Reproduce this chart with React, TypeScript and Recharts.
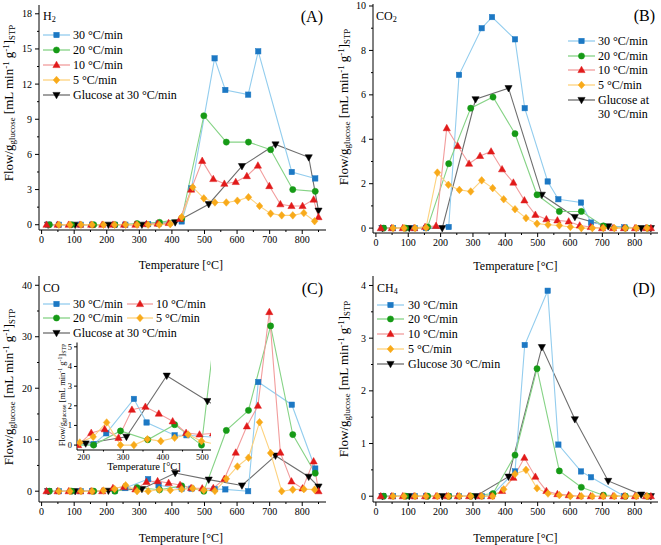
import React from "react"
import { Line, LineChart, XAxis, YAxis } from "recharts"

const FONT = "'Liberation Serif', 'Times New Roman', serif"

// temperatures at which each heating rate was sampled [°C]
const T_30 = [20, 53, 120, 155, 225, 257, 327, 359, 430, 460, 531, 564, 634, 665, 768, 840]
const T_20 = [24, 92, 160, 225, 293, 362, 430, 498, 567, 635, 703, 771, 840]
const T_10 = [15, 49, 83, 118, 152, 186, 219, 253, 288, 322, 356, 390, 425, 459, 493, 527, 561, 596, 630, 664, 699, 733, 767, 801, 835, 850]
const T_5 = [53, 87, 121, 155, 190, 224, 258, 293, 327, 361, 395, 430, 464, 498, 532, 567, 601, 635, 669, 703, 737, 771, 805, 838]
const T_GLUCOSE = [20, 103, 205, 308, 410, 513, 615, 718, 820, 850]

// (A) H2
const H2_30 = [0, 0, 0, 0, 0, 0, 0.05, 0.1, 0.28, 3.1, 14.2, 11.5, 11.1, 14.8, 4.5, 3.95]
const H2_20 = [0, 0, 0, 0, 0.1, 0.2, 0.5, 9.3, 7.05, 7.05, 6.4, 3.0, 2.85]
const H2_10 = [0, 0, 0, 0, 0, 0, 0, 0, 0, 0.05, 0.1, 0.15, 0.5, 3.0, 5.45, 3.9, 3.5, 3.65, 4.15, 5.05, 3.3, 1.75, 1.6, 1.6, 2.15, 0.65]
const H2_5 = [0, 0, 0, 0, 0, 0, 0, 0, 0, 0, 0.05, 0.65, 3.2, 2.25, 1.9, 1.9, 2.05, 2.35, 1.6, 0.95, 0.8, 0.8, 1.0, 0.3]
const H2_GLUCOSE = [0, 0, 0, 0, 0.2, 1.75, 5.0, 6.85, 5.75, 1.2]

// (B) CO2
const CO2_30 = [0, 0, 0, 0, 0.05, 6.9, 9.0, 9.5, 8.5, 5.4, 2.1, 1.3, 1.15, 0.25, 0.03, 0]
const CO2_20 = [0, 0, 0.05, 2.9, 5.4, 5.9, 4.25, 1.5, 0.75, 0.75, 0.1, 0, 0]
const CO2_10 = [0, 0, 0, 0, 0.05, 0.1, 4.5, 3.7, 2.9, 3.25, 3.45, 2.65, 2.05, 1.25, 0.6, 0.4, 0.35, 0.3, 0.12, 0.05, 0, 0, 0, 0, 0, 0]
const CO2_5 = [0, 0, 0, 0.02, 2.5, 1.95, 1.72, 1.65, 2.15, 1.8, 1.3, 0.85, 0.45, 0.2, 0.15, 0.12, 0.05, 0, 0, 0, 0, 0, 0, 0]
const CO2_GLUCOSE = [0, 0, 0, 5.8, 6.3, 1.5, 0.5, 0.08, 0, 0]

// (C) CO
const CO_30 = [0, 0, 0, 0, 0.05, 0.6, 2.35, 1.15, 0.5, 0.5, 0.4, 0.35, 0, 21.2, 16.8, 4.4]
const CO_20 = [0, 0, 0, 0, 0.72, 0.27, 1.04, 0, 11.8, 15.7, 32.1, 11.0, 3.5]
const CO_10 = [0, 0, 0, 0, 0, 0, 0.62, 0.81, 0.37, 1.8, 1.95, 1.6, 1.21, 0.62, 0.54, 0.6, 2.4, 7.5, 12.6, 16.6, 34.8, 7.5, 1.9, 0.55, 5.8, 0]
const CO_5 = [0, 0, 0, 0, 0.13, 0.42, 1.15, 0, 0, 0.3, 0.2, 0.37, 0.54, 0.2, 0.05, 2.4, 4.8, 6.5, 13.4, 7.4, 0, 0.3, 0.4, 0.3]
const CO_GLUCOSE = [0, 0, 0.08, 0.42, 3.53, 2.24, 1.1, 6.9, 2.8, 0.9]

// (D) CH4
const CH4_30 = [0, 0, 0, 0, 0, 0, 0, 0.02, 0.47, 2.87, 3.9, 0.98, 0.47, 0.36, 0, 0]
const CH4_20 = [0, 0, 0, 0, 0, 0.05, 0.78, 2.42, 0.48, 0.17, 0.02, 0, 0]
const CH4_10 = [0, 0, 0, 0, 0, 0, 0, 0, 0, 0, 0, 0.1, 0.35, 0.73, 0.37, 0.1, 0.04, 0.02, 0, 0, 0, 0, 0, 0, 0, 0]
const CH4_5 = [0, 0, 0, 0, 0, 0, 0, 0, 0, 0, 0.13, 0.42, 0.5, 0.15, 0.05, 0.02, 0, 0, 0, 0, 0, 0, 0, 0]
const CH4_GLUCOSE = [0, 0, 0, 0, 0.37, 2.83, 1.46, 0.29, 0.03, 0]

const X_MAJOR = [0, 100, 200, 300, 400, 500, 600, 700, 800]
const X_MINOR = [50, 150, 250, 350, 450, 550, 650, 750, 850]
const INSET_X_MAJOR = [200, 300, 400, 500]
const INSET_X_MINOR = [250, 350, 450]
const H2_Y_MAJOR = [0, 3, 6, 9, 12, 15, 18]
const H2_Y_MINOR = [1.5, 4.5, 7.5, 10.5, 13.5, 16.5]
const CO2_Y_MAJOR = [0, 2, 4, 6, 8, 10]
const CO2_Y_MINOR = [1, 3, 5, 7, 9]
const CO_Y_MAJOR = [0, 10, 20, 30, 40]
const CO_Y_MINOR = [5, 15, 25, 35]
const CH4_Y_MAJOR = [0, 1, 2, 3, 4]
const CH4_Y_MINOR = [0.5, 1.5, 2.5, 3.5]
const INSET_Y_MAJOR = [0, 1, 2, 3, 4, 5]

type Shape = "square" | "circle" | "up" | "diamond" | "down"
type SeriesStyle = { shape: Shape; marker: string; line: string; temps: number[] }

const S30: SeriesStyle = { shape: "square", marker: "#1c78c4", line: "#93cdee", temps: T_30 }
const S20: SeriesStyle = { shape: "circle", marker: "#169a16", line: "#86d386", temps: T_20 }
const S10: SeriesStyle = { shape: "up", marker: "#e11a1a", line: "#f29c9c", temps: T_10 }
const S5: SeriesStyle = { shape: "diamond", marker: "#f8aa1a", line: "#fdd27e", temps: T_5 }
const SG: SeriesStyle = { shape: "down", marker: "#000000", line: "#6e6e6e", temps: T_GLUCOSE }

function Marker({ shape, cx, cy, color }: { shape: Shape; cx: number; cy: number; color: string }) {
  const common = { fill: color, stroke: color, strokeWidth: 0.5 }
  if (shape === "square") return <rect x={cx - 2.7} y={cy - 2.7} width={5.4} height={5.4} {...common} />
  if (shape === "circle") return <circle cx={cx} cy={cy} r={3.1} {...common} />
  if (shape === "up")
    return <polygon points={`${cx},${cy - 3.8} ${cx + 3.6},${cy + 2.6} ${cx - 3.6},${cy + 2.6}`} {...common} />
  if (shape === "down")
    return <polygon points={`${cx},${cy + 3.8} ${cx + 3.6},${cy - 2.6} ${cx - 3.6},${cy - 2.6}`} {...common} />
  return <polygon points={`${cx},${cy - 3.8} ${cx + 3.3},${cy} ${cx},${cy + 3.8} ${cx - 3.3},${cy}`} {...common} />
}

const toPoints = (temps: number[], values: number[]) => temps.map((x, i) => ({ x, y: values[i] }))

type TickCfg = { font: number; len: number; minorLen: number; xOffset: number; yGap: number }

function makeXTick(major: number[], t: TickCfg) {
  return (props: any) => {
    const { x, y, payload } = props
    const isMajor = major.includes(payload.value)
    return (
      <g>
        <line x1={x} x2={x} y1={y} y2={y + (isMajor ? t.len : t.minorLen)} stroke="#000" />
        {isMajor && (
          <text x={x} y={y + t.xOffset} textAnchor="middle" dominantBaseline="central" fontSize={t.font} fontFamily={FONT} fill="#000">
            {payload.value}
          </text>
        )}
      </g>
    )
  }
}

function makeYTick(major: number[], t: TickCfg) {
  return (props: any) => {
    const { x, y, payload } = props
    const isMajor = major.includes(payload.value)
    return (
      <g>
        <line x1={x - (isMajor ? t.len : t.minorLen)} x2={x} y1={y} y2={y} stroke="#000" />
        {isMajor && (
          <text x={x - t.len - t.yGap} y={y} textAnchor="end" dominantBaseline="central" fontSize={t.font} fontFamily={FONT} fill="#000">
            {payload.value}
          </text>
        )}
      </g>
    )
  }
}

type PlotProps = {
  width: number
  height: number
  margin: { top: number; right: number; bottom: number; left: number }
  yAxisWidth: number
  xAxisHeight: number
  xDomain: [number, number]
  yDomain: [number, number]
  xMajor: number[]
  xMinor: number[]
  yMajor: number[]
  yMinor: number[]
  lines: { style: SeriesStyle; values: number[] }[]
  tick: TickCfg
}

function Plot(p: PlotProps) {
  const xt = [...p.xMajor, ...p.xMinor].sort((a, b) => a - b)
  const yt = [...p.yMajor, ...p.yMinor].sort((a, b) => a - b)
  return (
    <LineChart width={p.width} height={p.height} margin={p.margin}>
      <XAxis
        xAxisId="b"
        dataKey="x"
        type="number"
        domain={p.xDomain}
        allowDataOverflow
        ticks={xt}
        interval={0}
        tickSize={0}
        tickMargin={0}
        tickLine={false}
        height={p.xAxisHeight}
        axisLine={{ stroke: "#000" }}
        tick={makeXTick(p.xMajor, p.tick)}
      />
      <XAxis xAxisId="t" dataKey="x" orientation="top" type="number" domain={p.xDomain} allowDataOverflow height={0} tick={false} tickLine={false} axisLine={{ stroke: "#000" }} />
      <YAxis
        yAxisId="l"
        type="number"
        domain={p.yDomain}
        allowDataOverflow
        ticks={yt}
        interval={0}
        tickSize={0}
        tickMargin={0}
        tickLine={false}
        width={p.yAxisWidth}
        axisLine={{ stroke: "#000" }}
        tick={makeYTick(p.yMajor, p.tick)}
      />
      <YAxis yAxisId="r" orientation="right" type="number" domain={p.yDomain} allowDataOverflow width={0} tick={false} tickLine={false} axisLine={{ stroke: "#000" }} />
      {p.lines.map((l, i) => (
        <Line
          key={i}
          xAxisId="b"
          yAxisId="l"
          data={toPoints(l.style.temps, l.values)}
          dataKey="y"
          type="linear"
          stroke={l.style.line}
          strokeWidth={1.1}
          isAnimationActive={false}
          activeDot={false}
          dot={(d: any) => <Marker key={d.index} shape={l.style.shape} cx={d.cx} cy={d.cy} color={l.style.marker} />}
        />
      ))}
    </LineChart>
  )
}

function LegendItem({ style, x1, x2, textX, y, label }: { style: SeriesStyle; x1: number; x2: number; textX: number; y: number; label: string }) {
  const w = x2 - x1
  return (
    <>
      <svg style={{ position: "absolute", left: x1, top: y - 6, overflow: "visible" }} width={w} height={12}>
        <line x1={0} x2={w} y1={6} y2={6} stroke={style.line} strokeWidth={1.3} />
        <Marker shape={style.shape} cx={w / 2} cy={6} color={style.marker} />
      </svg>
      <Txt x={textX} y={y} size={12}>
        {label}
      </Txt>
    </>
  )
}

function Txt({ x, y, size, children, anchor = "start" }: { x: number; y: number; size: number; children: React.ReactNode; anchor?: "start" | "end" | "middle" }) {
  const tx = anchor === "start" ? "0" : anchor === "end" ? "-100%" : "-50%"
  return (
    <div
      style={{
        position: "absolute",
        left: x,
        top: y,
        transform: `translate(${tx}, -50%)`,
        fontSize: size,
        lineHeight: 1,
        whiteSpace: "nowrap",
        fontFamily: FONT,
        color: "#000",
      }}
    >
      {children}
    </div>
  )
}

function YTitle({ x, y, size }: { x: number; y: number; size: number }) {
  const sub = { fontSize: "0.68em", verticalAlign: "-0.25em", lineHeight: 0 }
  const sup = { fontSize: "0.68em", verticalAlign: "0.45em", lineHeight: 0 }
  return (
    <div
      style={{
        position: "absolute",
        left: x,
        top: y,
        transform: "translate(-50%, -50%) rotate(-90deg)",
        fontSize: size,
        lineHeight: 1,
        whiteSpace: "nowrap",
        fontFamily: FONT,
      }}
    >
      Flow/g<span style={sub}>glucose</span> [mL min<span style={sup}>-1</span> g<span style={sup}>-1</span>]<span style={sub}>STP</span>
    </div>
  )
}

const MAIN_TICK: TickCfg = { font: 10, len: 4, minorLen: 2, xOffset: 9.5, yGap: 3 }
const INSET_TICK: TickCfg = { font: 8.5, len: 3, minorLen: 1.5, xOffset: 6.5, yGap: 2 }
const LABELS = ["30 °C/min", "20 °C/min", "10 °C/min", "5 °C/min"]

export default function App() {
  const sub = { fontSize: "0.68em", verticalAlign: "-0.25em", lineHeight: 0 }
  return (
    <div style={{ position: "absolute", left: 0, top: 0, width: 661, height: 545, background: "#fff", overflow: "hidden" }}>
      {/* (A) H2 */}
      <div style={{ position: "absolute", left: 0, top: 0, width: 330, height: 272 }}>
        <Plot
          width={330}
          height={272}
          margin={{ top: 5, right: 4, bottom: 0, left: 0 }}
          yAxisWidth={39}
          xAxisHeight={42}
          xDomain={[-8, 873]}
          yDomain={[-0.45, 18.75]}
          xMajor={X_MAJOR}
          xMinor={X_MINOR}
          yMajor={H2_Y_MAJOR}
          yMinor={H2_Y_MINOR}
          tick={MAIN_TICK}
          lines={[
            { style: SG, values: H2_GLUCOSE },
            { style: S30, values: H2_30 },
            { style: S20, values: H2_20 },
            { style: S10, values: H2_10 },
            { style: S5, values: H2_5 },
          ]}
        />
        <Txt x={43} y={16} size={12}>
          H<span style={sub}>2</span>
        </Txt>
        <Txt x={323} y={17} size={16} anchor="end">(A)</Txt>
        {[S30, S20, S10, S5].map((s, i) => (
          <LegendItem key={i} style={s} x1={43} x2={70} textX={73} y={35 + i * 15} label={LABELS[i]} />
        ))}
        <LegendItem style={SG} x1={43} x2={70} textX={73} y={95} label="Glucose at 30 °C/min" />
        <YTitle x={8} y={103} size={13} />
        <Txt x={181} y={265} size={12} anchor="middle">Temperature [°C]</Txt>
      </div>

      {/* (B) CO2 */}
      <div style={{ position: "absolute", left: 330, top: 0, width: 331, height: 272 }}>
        <Plot
          width={331}
          height={272}
          margin={{ top: 4, right: 3, bottom: 0, left: 0 }}
          yAxisWidth={43}
          xAxisHeight={39}
          xDomain={[-9, 872]}
          yDomain={[-0.22, 10.09]}
          xMajor={X_MAJOR}
          xMinor={X_MINOR}
          yMajor={CO2_Y_MAJOR}
          yMinor={CO2_Y_MINOR}
          tick={MAIN_TICK}
          lines={[
            { style: SG, values: CO2_GLUCOSE },
            { style: S30, values: CO2_30 },
            { style: S20, values: CO2_20 },
            { style: S10, values: CO2_10 },
            { style: S5, values: CO2_5 },
          ]}
        />
        <Txt x={46} y={16} size={12}>
          CO<span style={sub}>2</span>
        </Txt>
        <Txt x={325} y={16} size={16} anchor="end">(B)</Txt>
        {[S30, S20, S10, S5].map((s, i) => (
          <LegendItem key={i} style={s} x1={238} x2={265} textX={268} y={41 + i * 14.7} label={LABELS[i]} />
        ))}
        <LegendItem style={SG} x1={238} x2={265} textX={268} y={99.5} label="Glucose at" />
        <Txt x={268} y={114} size={12}>30 °C/min</Txt>
        <YTitle x={13} y={107} size={13} />
        <Txt x={185.5} y={265.5} size={12} anchor="middle">Temperature [°C]</Txt>
      </div>

      {/* (C) CO */}
      <div style={{ position: "absolute", left: 0, top: 272, width: 330, height: 273 }}>
        <Plot
          width={330}
          height={273}
          margin={{ top: 4, right: 4, bottom: 0, left: 0 }}
          yAxisWidth={39}
          xAxisHeight={43}
          xDomain={[-8, 873]}
          yDomain={[-2.1, 41.8]}
          xMajor={X_MAJOR}
          xMinor={X_MINOR}
          yMajor={CO_Y_MAJOR}
          yMinor={CO_Y_MINOR}
          tick={MAIN_TICK}
          lines={[
            { style: SG, values: CO_GLUCOSE },
            { style: S30, values: CO_30 },
            { style: S20, values: CO_20 },
            { style: S10, values: CO_10 },
            { style: S5, values: CO_5 },
          ]}
        />
        <Txt x={43} y={16} size={12}>CO</Txt>
        <Txt x={323} y={17} size={16} anchor="end">(C)</Txt>
        <LegendItem style={S30} x1={43} x2={70} textX={73} y={32} label={LABELS[0]} />
        <LegendItem style={S10} x1={127} x2={153} textX={156} y={32} label={LABELS[2]} />
        <LegendItem style={S20} x1={43} x2={70} textX={73} y={46} label={LABELS[1]} />
        <LegendItem style={S5} x1={127} x2={153} textX={156} y={46} label={LABELS[3]} />
        <LegendItem style={SG} x1={43} x2={70} textX={73} y={61} label="Glucose at 30 °C/min" />
        <YTitle x={8} y={115} size={13} />
        <Txt x={181} y={265.5} size={12} anchor="middle">Temperature [°C]</Txt>

        {/* inset */}
        <div style={{ position: "absolute", left: 52, top: 67, width: 160, height: 125, background: "#fff" }}>
          <Plot
            width={160}
            height={125}
            margin={{ top: 3.5, right: 1, bottom: 0, left: 0 }}
            yAxisWidth={25}
            xAxisHeight={14}
            xDomain={[183, 522]}
            yDomain={[-0.25, 5.22]}
            xMajor={INSET_X_MAJOR}
            xMinor={INSET_X_MINOR}
            yMajor={INSET_Y_MAJOR}
            yMinor={[]}
            tick={INSET_TICK}
            lines={[
              { style: SG, values: CO_GLUCOSE },
              { style: S30, values: CO_30 },
              { style: S20, values: CO_20 },
              { style: S10, values: CO_10 },
              { style: S5, values: CO_5 },
            ]}
          />
        </div>
        <YTitle x={62} y={123} size={8.5} />
        <Txt x={144} y={195} size={10.5} anchor="middle">Temperature [°C]</Txt>
      </div>

      {/* (D) CH4 */}
      <div style={{ position: "absolute", left: 330, top: 272, width: 331, height: 273 }}>
        <Plot
          width={331}
          height={273}
          margin={{ top: 4, right: 3, bottom: 0, left: 0 }}
          yAxisWidth={43}
          xAxisHeight={43}
          xDomain={[-9, 872]}
          yDomain={[-0.11, 4.18]}
          xMajor={X_MAJOR}
          xMinor={X_MINOR}
          yMajor={CH4_Y_MAJOR}
          yMinor={CH4_Y_MINOR}
          tick={MAIN_TICK}
          lines={[
            { style: SG, values: CH4_GLUCOSE },
            { style: S30, values: CH4_30 },
            { style: S20, values: CH4_20 },
            { style: S10, values: CH4_10 },
            { style: S5, values: CH4_5 },
          ]}
        />
        <Txt x={47} y={16} size={12}>
          CH<span style={sub}>4</span>
        </Txt>
        <Txt x={325} y={17} size={16} anchor="end">(D)</Txt>
        {[S30, S20, S10, S5].map((s, i) => (
          <LegendItem key={i} style={s} x1={47} x2={74} textX={78} y={32.5 + i * 14.8} label={LABELS[i]} />
        ))}
        <LegendItem style={SG} x1={47} x2={74} textX={78} y={91.7} label="Glucose 30 °C/min" />
        <YTitle x={13} y={107} size={13} />
        <Txt x={185.5} y={265.5} size={12} anchor="middle">Temperature [°C]</Txt>
      </div>
    </div>
  )
}
